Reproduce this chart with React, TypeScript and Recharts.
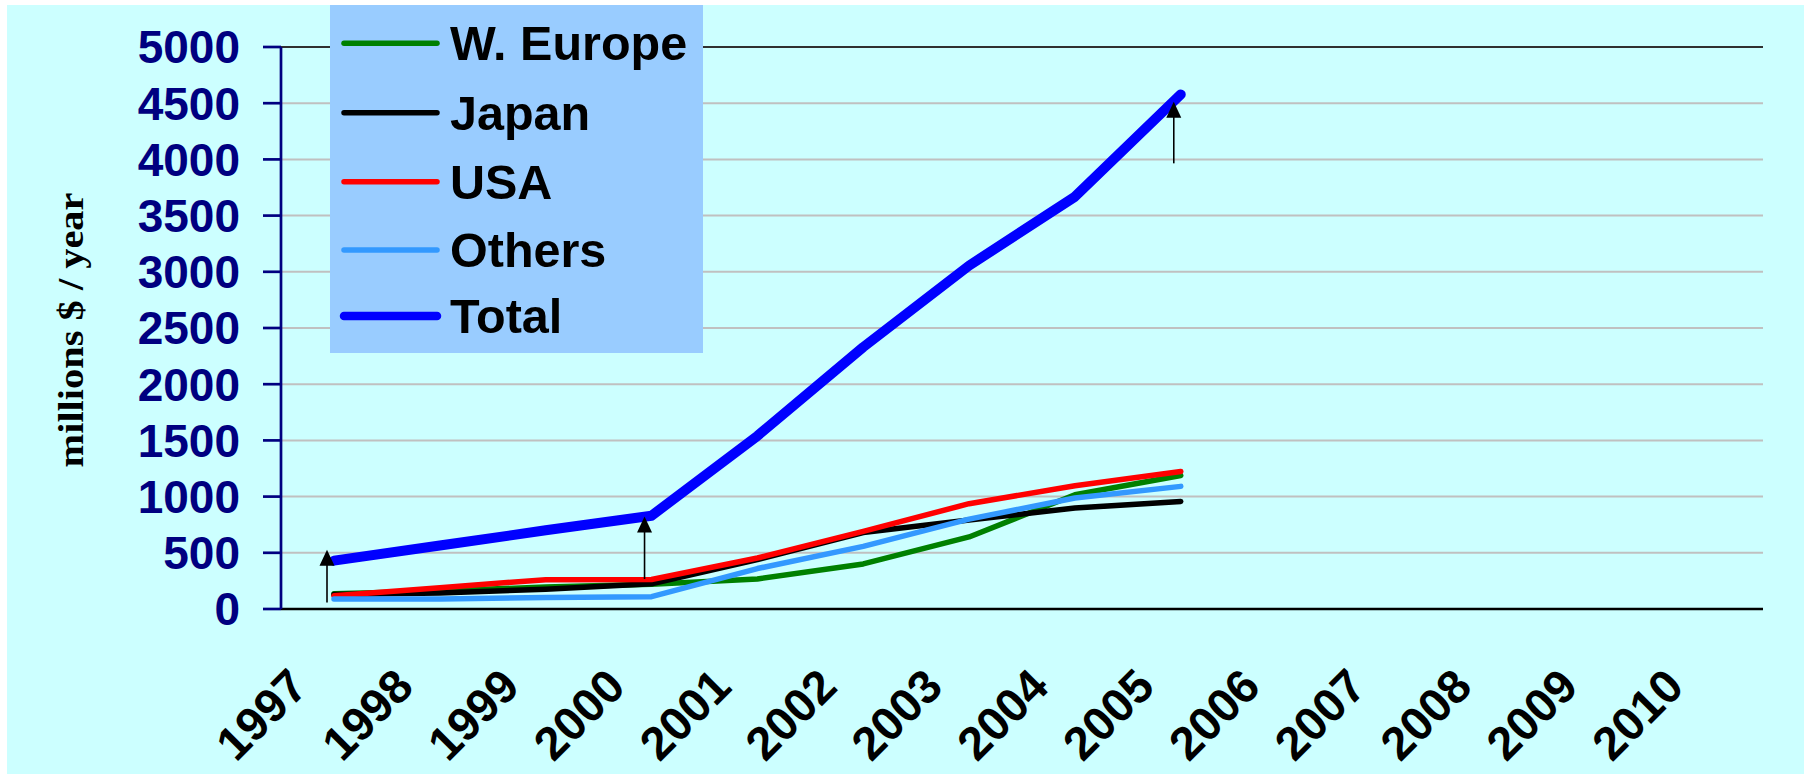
import React from 'react';
import { LineChart, Line, XAxis, YAxis, CartesianGrid, ReferenceLine } from 'recharts';

// ---- data ----
const years = ['1997', '1998', '1999', '2000', '2001', '2002', '2003', '2004', '2005', '2006', '2007', '2008', '2009', '2010'];
const wEurope = [135, 160, 196, 220, 267, 401, 641, 1017, 1188];
const japan = [128, 143, 175, 225, 440, 680, 792, 898, 957];
const usa = [118, 190, 261, 263, 454, 691, 937, 1097, 1224];
const others = [88, 90, 103, 110, 360, 557, 800, 987, 1091];
const total = [430, 565, 700, 830, 1540, 2330, 3055, 3668, 4578];
const yTicks = [0, 500, 1000, 1500, 2000, 2500, 3000, 3500, 4000, 4500, 5000];
const arrowYears = ['1997', '2000', '2005'];
const arrowFrom = [57, 267, 3965];
const arrowTo = [528, 824, 4512];

const series = [
  { key: 'wEurope', name: 'W. Europe', values: wEurope, color: '#008000', width: 5.5 },
  { key: 'japan', name: 'Japan', values: japan, color: '#000000', width: 5.5 },
  { key: 'usa', name: 'USA', values: usa, color: '#FF0000', width: 5.5 },
  { key: 'others', name: 'Others', values: others, color: '#3399FF', width: 5.5 },
  { key: 'total', name: 'Total', values: total, color: '#0000FF', width: 10 },
];

const data = years.map((year, i) => {
  const row: Record<string, any> = { year };
  series.forEach((s) => {
    row[s.key] = i < s.values.length ? s.values[i] : null;
  });
  return row;
});

const FONT = "'Liberation Sans', Arial, sans-serif";

const XTick = (props: any) => {
  const { x, y, payload } = props;
  const ax = x - 24;
  const ay = y + 80;
  return (
    <text
      x={ax}
      y={ay}
      transform={`rotate(-45, ${ax}, ${ay})`}
      textAnchor="end"
      fontFamily={FONT}
      fontWeight="bold"
      fontSize={47}
      fill="#000"
    >
      {payload.value}
    </text>
  );
};

const ArrowShape = (p: any) => {
  const { x1, y1, x2, y2 } = p;
  if ([x1, y1, x2, y2].some((v) => typeof v !== 'number' || isNaN(v))) return <g />;
  const x = x1 - 7;
  const yb = Math.max(y1, y2);
  const yt = Math.min(y1, y2);
  return (
    <g>
      <line x1={x} x2={x} y1={yb} y2={yt + 12} stroke="#000" strokeWidth={1.6} />
      <polygon points={`${x},${yt} ${x - 7.5},${yt + 16} ${x + 7.5},${yt + 16}`} fill="#000" />
    </g>
  );
};

const YTitle = (p: any) => {
  const vb = p && p.viewBox ? p.viewBox : null;
  const cy = vb && typeof vb.y === 'number' ? vb.y + vb.height / 2 + 2 : 330;
  return (
    <text
      x={83}
      y={cy}
      transform={`rotate(-90, 83, ${cy})`}
      textAnchor="middle"
      fontFamily="'Liberation Serif', 'Times New Roman', serif"
      fontWeight="bold"
      fontSize={36}
      textLength={275}
      lengthAdjust="spacingAndGlyphs"
      fill="#000"
    >
      millions $ / year
    </text>
  );
};

const legendRows = [43.3, 112.7, 181.7, 250, 316];

export default function App() {
  return (
    <div style={{ position: 'absolute', left: 0, top: 0, width: 1804, height: 774, background: '#FFFFFF', overflow: 'hidden' }}>
      <div style={{ position: 'absolute', left: 7, top: 5, right: 0, bottom: 0, background: '#CCFFFF' }} />
      <div style={{ position: 'absolute', left: 0, top: 0 }}>
        <LineChart
          width={1804}
          height={774}
          data={data}
          margin={{ top: 47, right: 41, bottom: 0, left: 0 }}
          style={{ fontFamily: FONT }}
        >
          <CartesianGrid vertical={false} stroke="#C0C0C0" strokeWidth={2} />
          <XAxis
            dataKey="year"
            height={165}
            interval={0}
            padding={{ left: 53, right: 53 }}
            tickLine={false}
            tickSize={0}
            tickMargin={0}
            axisLine={{ stroke: '#000', strokeWidth: 2.7 }}
            tick={<XTick />}
          />
          <YAxis
            width={281}
            domain={[0, 5000]}
            ticks={yTicks}
            interval={0}
            tickSize={18}
            tickMargin={23}
            axisLine={{ stroke: '#000080', strokeWidth: 2.7 }}
            tickLine={{ stroke: '#000080', strokeWidth: 2.7 }}
            tick={{ fill: '#000080', fontSize: 46, fontWeight: 'bold', fontFamily: FONT }}
            label={{ content: (p: any) => <YTitle {...p} /> }}
          />
          <YAxis
            yAxisId="r"
            orientation="right"
            width={0}
            domain={[0, 5000]}
            tick={false}
            tickLine={false}
            axisLine={{ stroke: '#000', strokeWidth: 2.7 }}
          />
          <ReferenceLine y={5000} stroke="#000" strokeWidth={1.5} />
          {series.map((s) => (
            <Line
              key={s.key}
              dataKey={s.key}
              name={s.name}
              stroke={s.color}
              strokeWidth={s.width}
              strokeLinecap="round"
              strokeLinejoin="round"
              dot={false}
              activeDot={false}
              isAnimationActive={false}
            />
          ))}
          {arrowYears.map((yr, i) => (
            <ReferenceLine
              key={'arr' + yr}
              segment={[{ x: yr, y: arrowFrom[i] }, { x: yr, y: arrowTo[i] }]}
              stroke="#000"
              shape={(p: any) => <ArrowShape {...p} />}
            />
          ))}
        </LineChart>
      </div>
      <div style={{ position: 'absolute', left: 330, top: 5, width: 373, height: 348, background: '#99CCFF' }}>
        <svg width={373} height={348} style={{ display: 'block' }}>
          {series.map((s, i) => {
            const cy = legendRows[i] - 5;
            return (
              <g key={s.key}>
                <line x1={14} x2={107} y1={cy} y2={cy} stroke={s.color} strokeWidth={s.key === 'total' ? 8.5 : 5.5} strokeLinecap="round" />
                <text x={120} y={cy + 17} fontFamily={FONT} fontWeight="bold" fontSize={48.5} fill="#000">
                  {s.name}
                </text>
              </g>
            );
          })}
        </svg>
      </div>
    </div>
  );
}
